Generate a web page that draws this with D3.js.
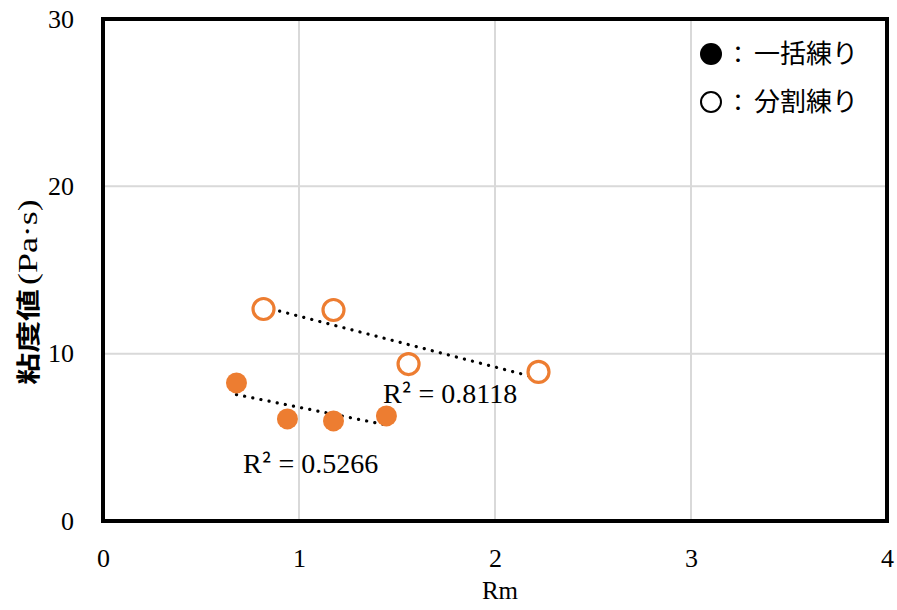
<!DOCTYPE html>
<html>
<head>
<meta charset="utf-8">
<script src="https://cdn.jsdelivr.net/npm/d3@7"></script>
<style>
  html, body { margin: 0; padding: 0; background: #fff; }
  svg { display: block; }
</style>
</head>
<body>
<svg id="chart" width="897" height="610"></svg>
<script>
// Rm vs viscosity for the two mixing methods
const batchRm = [0.681, 0.941, 1.176, 1.446];
const batchVisc = [8.25, 6.10, 5.98, 6.28];
const splitRm = [0.819, 1.176, 1.559, 2.222];
const splitVisc = [12.67, 12.61, 9.38, 8.91];
const xTicks = [0, 1, 2, 3, 4];
const yTicks = [0, 10, 20, 30];
const r2Labels = ["R² = 0.5266", "R² = 0.8118"];
const legendLabels = ["一括練り", "分割練り"];

const svg = d3.select("#chart");
const x = d3.scaleLinear().domain([0, 4]).range([103, 887]);
const y = d3.scaleLinear().domain([0, 30]).range([521, 19]);
const orange = "#ED7D31";
const serif = "'Liberation Serif', 'Times New Roman', serif";
const cjk = "'Noto Sans CJK JP', 'Noto Sans', sans-serif";

// gridlines
const grid = svg.append("g");
grid.selectAll(".gx").data(xTicks.slice(1, -1)).join("line")
  .attr("x1", d => x(d)).attr("x2", d => x(d))
  .attr("y1", y(30)).attr("y2", y(0))
  .attr("stroke", "#d9d9d9").attr("stroke-width", 2);
grid.selectAll(".gy").data(yTicks.slice(1, -1)).join("line")
  .attr("x1", x(0)).attr("x2", x(4))
  .attr("y1", d => y(d)).attr("y2", d => y(d))
  .attr("stroke", "#d9d9d9").attr("stroke-width", 2);

// tick labels via axes
const xAxis = svg.append("g").attr("transform", `translate(0,${y(0) + 25})`)
  .call(d3.axisBottom(x).tickValues(xTicks).tickFormat(d3.format("d")).tickSize(0));
xAxis.select(".domain").remove();
xAxis.selectAll("text").attr("font-family", serif).attr("font-size", 26).attr("fill", "#000").attr("dy", "0.71em");

const yAxis = svg.append("g").attr("transform", `translate(${x(0) - 26},0)`)
  .call(d3.axisLeft(y).tickValues(yTicks).tickFormat(d3.format("d")).tickSize(0));
yAxis.select(".domain").remove();
yAxis.selectAll("text").attr("font-family", serif).attr("font-size", 26).attr("fill", "#000");

// axis titles
svg.append("text").attr("x", 500).attr("y", 599)
  .attr("text-anchor", "middle").attr("font-family", serif).attr("font-size", 25).text("Rm");

const yt = svg.append("text").attr("transform", "translate(37,292) rotate(-90) scale(1.33,1)")
  .attr("text-anchor", "middle");
yt.append("tspan").attr("font-family", cjk).attr("font-weight", "bold").attr("font-size", 24).text("粘度値");
yt.append("tspan").attr("font-family", serif).attr("font-size", 27).attr("dx", 3).text("(Pa·s)");

// linear least-squares trendline
function fit(xs, ys) {
  const mx = d3.mean(xs), my = d3.mean(ys);
  let sxy = 0, sxx = 0;
  xs.forEach((v, i) => { sxy += (v - mx) * (ys[i] - my); sxx += (v - mx) ** 2; });
  const b = sxy / sxx, a = my - b * mx;
  return v => a + b * v;
}
[[batchRm, batchVisc], [splitRm, splitVisc]].forEach(([xs, ys]) => {
  const f = fit(xs, ys);
  const x0 = d3.min(xs), x1 = d3.max(xs);
  svg.append("line")
    .attr("x1", x(x0)).attr("y1", y(f(x0)))
    .attr("x2", x(x1)).attr("y2", y(f(x1)))
    .attr("stroke", "#000").attr("stroke-width", 3.2)
    .attr("stroke-linecap", "round").attr("stroke-dasharray", "0.1 8.2");
});

// points
svg.append("g").selectAll("circle").data(batchRm.map((v, i) => [v, batchVisc[i]])).join("circle")
  .attr("cx", d => x(d[0])).attr("cy", d => y(d[1])).attr("r", 10.5)
  .attr("fill", orange);
svg.append("g").selectAll("circle").data(splitRm.map((v, i) => [v, splitVisc[i]])).join("circle")
  .attr("cx", d => x(d[0])).attr("cy", d => y(d[1])).attr("r", 10.5)
  .attr("fill", "#fff").attr("stroke", orange).attr("stroke-width", 3.2);

// R² labels (the superscript drawn in the CJK face)
function r2Label(txt, px, py) {
  const t = svg.append("text").attr("x", px).attr("y", py)
    .attr("font-family", serif).attr("font-size", 28);
  const [head, tail] = txt.split("²");
  t.append("tspan").text(head);
  t.append("tspan").attr("font-family", cjk).attr("font-size", 24).text("²");
  t.append("tspan").text(tail);
}
r2Label(r2Labels[0], 243, 473);
r2Label(r2Labels[1], 383, 403);

// frame
svg.append("rect").attr("x", x(0)).attr("y", y(30)).attr("width", x(4) - x(0)).attr("height", y(0) - y(30))
  .attr("fill", "none").attr("stroke", "#000").attr("stroke-width", 4);

// legend
const lg = svg.append("g");
legendLabels.forEach((lbl, i) => {
  const cy = 54 + i * 48;
  lg.append("circle").attr("cx", 711).attr("cy", cy).attr("r", i === 0 ? 11 : 10)
    .attr("fill", i === 0 ? "#000" : "#fff").attr("stroke", "#000").attr("stroke-width", i === 0 ? 0 : 2);
  lg.append("text").attr("x", 726).attr("y", cy + 9).attr("font-family", cjk).attr("font-size", 24).text("：");
  lg.append("text").attr("x", 754).attr("y", cy + 9).attr("font-family", cjk).attr("font-size", 26).text(lbl);
});
</script>
</body>
</html>
